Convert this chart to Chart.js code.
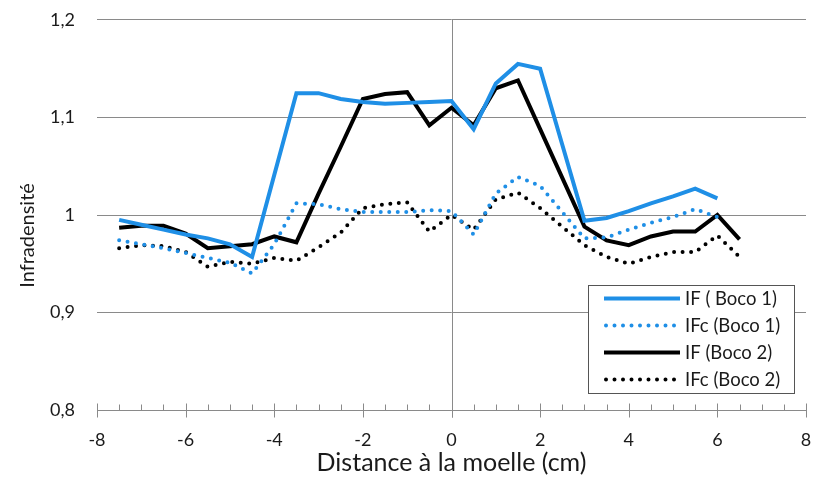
<!DOCTYPE html>
<html>
<head>
<meta charset="utf-8">
<script src="https://cdn.jsdelivr.net/npm/chart.js@4.4.1/dist/chart.umd.min.js"></script>
<style>
  html, body { margin: 0; padding: 0; background: #fff; }
  #wrap { width: 813px; height: 482px; position: relative; }
</style>
</head>
<body>
<div id="wrap"><canvas id="c" width="813" height="482"></canvas></div>
<script>
// ---- data ----
const xBoco1 = [-7.5,-7,-6.5,-6,-5.5,-5,-4.5,-4,-3.5,-3,-2.5,-2,-1.5,-1,-0.5,0,0.5,1,1.5,2,2.5,3,3.5,4,4.5,5,5.5,6];
const ifBoco1 = [0.995,0.990,0.985,0.980,0.976,0.970,0.957,1.041,1.125,1.125,1.119,1.116,1.114,1.115,1.116,1.117,1.088,1.135,1.155,1.150,1.072,0.994,0.997,1.004,1.012,1.019,1.027,1.017];
const ifcBoco1 = [0.974,0.970,0.966,0.961,0.956,0.951,0.940,0.970,1.012,1.011,1.006,1.003,1.003,1.003,1.005,1.004,0.980,1.022,1.039,1.030,1.003,0.976,0.977,0.985,0.992,0.998,1.006,0.998];
const xBoco2 = [-7.5,-7,-6.5,-6,-5.5,-5,-4.5,-4,-3.5,-3,-2.5,-2,-1.5,-1,-0.5,0,0.5,1,1.5,2,2.5,3,3.5,4,4.5,5,5.5,6,6.5];
const ifBoco2 = [0.987,0.989,0.989,0.981,0.966,0.968,0.970,0.978,0.972,1.022,1.070,1.119,1.124,1.126,1.092,1.110,1.092,1.130,1.138,1.088,1.038,0.988,0.974,0.969,0.978,0.983,0.983,1.000,0.975];
const ifcBoco2 = [0.966,0.969,0.968,0.962,0.947,0.952,0.950,0.956,0.953,0.967,0.982,1.007,1.011,1.013,0.983,1.000,0.985,1.016,1.023,1.007,0.988,0.969,0.957,0.950,0.957,0.962,0.962,0.979,0.957];
const seriesLabels = ['IF ( Boco 1)', 'IFc (Boco 1)', 'IF (Boco 2)', 'IFc (Boco 2)'];
const xTickLabels = [-8,-6,-4,-2,0,2,4,6,8];
const yTickLabels = ['0,8','0,9','1','1,1','1,2'];

const BLUE = '#1f8fe6';
const BLACK = '#000000';
const GRID = '#8a8a8a';
const FONT = 'Lato, "Open Sans", sans-serif';

function pts(xs, ys) { return xs.map((x, i) => ({ x: x, y: ys[i] })); }

// x axis line, ticks, and vertical line at x = 0
const axisPlugin = {
  id: 'axisPlugin',
  beforeDatasetsDraw(chart) {
    const { ctx, chartArea: ca, scales: { x } } = chart;
    ctx.save();
    ctx.strokeStyle = GRID;
    ctx.lineWidth = 1;
    const yb = Math.round(ca.bottom) + 0.5;
    ctx.beginPath();
    ctx.moveTo(x.getPixelForValue(-8), yb);
    ctx.lineTo(x.getPixelForValue(8), yb);
    for (let v = -8; v <= 8.001; v += 0.5) {
      const px = Math.round(x.getPixelForValue(v)) + 0.5;
      if (Math.abs(v % 2) < 1e-6) {
        ctx.moveTo(px, yb - 7);
        ctx.lineTo(px, yb + 7);
      } else {
        ctx.moveTo(px, yb - 6);
        ctx.lineTo(px, yb);
      }
    }
    const p0 = Math.round(x.getPixelForValue(0)) + 0.5;
    ctx.moveTo(p0, ca.top);
    ctx.lineTo(p0, yb + 7);
    ctx.stroke();
    ctx.restore();
  }
};

// legend box drawn from the datasets' own styles
const legendPlugin = {
  id: 'legendBox',
  afterDraw(chart) {
    const ctx = chart.ctx;
    const bx = 588.5, by = 285.5, bw = 206, bh = 108;
    ctx.save();
    ctx.fillStyle = '#fff';
    ctx.fillRect(bx, by, bw, bh);
    ctx.strokeStyle = '#555';
    ctx.lineWidth = 1;
    ctx.strokeRect(bx, by, bw, bh);
    const rows = [298.5, 325.5, 352.5, 379.5];
    chart.data.datasets.forEach((ds, i) => {
      const y = rows[i];
      ctx.beginPath();
      ctx.strokeStyle = ds.borderColor;
      ctx.lineWidth = ds.borderWidth;
      ctx.lineCap = ds.borderCapStyle || 'butt';
      ctx.setLineDash(ds.borderDash || []);
      ctx.moveTo(ds.borderDash && ds.borderDash.length ? 606 : 604, y);
      ctx.lineTo(680, y);
      ctx.stroke();
      ctx.setLineDash([]);
      ctx.fillStyle = '#1a1a1a';
      ctx.font = '18.5px ' + FONT;
      ctx.textBaseline = 'middle';
      ctx.textAlign = 'left';
      ctx.fillText(ds.label, 685, y + 1);
    });
    ctx.restore();
  }
};

new Chart(document.getElementById('c'), {
  type: 'line',
  data: {
    datasets: [
      { label: seriesLabels[0], data: pts(xBoco1, ifBoco1), borderColor: BLUE, borderWidth: 4, pointRadius: 0, tension: 0, fill: false },
      { label: seriesLabels[1], data: pts(xBoco1, ifcBoco1), borderColor: BLUE, borderWidth: 4, borderDash: [0, 8.5], borderCapStyle: 'round', pointRadius: 0, tension: 0, fill: false },
      { label: seriesLabels[2], data: pts(xBoco2, ifBoco2), borderColor: BLACK, borderWidth: 4, pointRadius: 0, tension: 0, fill: false },
      { label: seriesLabels[3], data: pts(xBoco2, ifcBoco2), borderColor: BLACK, borderWidth: 4, borderDash: [0, 8.5], borderCapStyle: 'round', pointRadius: 0, tension: 0, fill: false }
    ]
  },
  options: {
    responsive: false,
    animation: false,
    layout: { padding: { left: 0, right: 7, top: 20, bottom: 0 } },
    plugins: { legend: { display: false }, tooltip: { enabled: false } },
    scales: {
      x: {
        type: 'linear', min: -8, max: 8,
        afterFit(s) { s.height = 72; s.paddingLeft = 0; s.paddingRight = 0; },
        afterBuildTicks(s) { s.ticks = xTickLabels.map(v => ({ value: v })); },
        grid: { display: false, drawTicks: false },
        border: { display: false },
        ticks: { autoSkip: false, maxRotation: 0, padding: 19, color: '#1a1a1a', font: { family: FONT, size: 18 }, callback: (v) => String(v) },
        title: { display: true, text: 'Distance à la moelle (cm)', color: '#1a1a1a', font: { family: FONT, size: 25 }, padding: { top: 0, bottom: 4 } }
      },
      y: {
        type: 'linear', min: 0.8, max: 1.2,
        afterFit(s) { s.width = 97; s.paddingTop = 0; s.paddingBottom = 0; },
        afterBuildTicks(s) { s.ticks = yTickLabels.map((t, i) => ({ value: 0.8 + i * 0.1 })); },
        grid: { color: GRID, lineWidth: 1, drawTicks: false },
        border: { display: false },
        ticks: { padding: 22, color: '#1a1a1a', font: { family: FONT, size: 18 },
          callback: (v, i) => yTickLabels[i] },
        title: { display: true, text: 'Infradensité        ', color: '#1a1a1a', font: { family: FONT, size: 20 }, padding: { top: 16, bottom: 0 } }
      }
    }
  },
  plugins: [axisPlugin, legendPlugin]
});
</script>
</body>
</html>
